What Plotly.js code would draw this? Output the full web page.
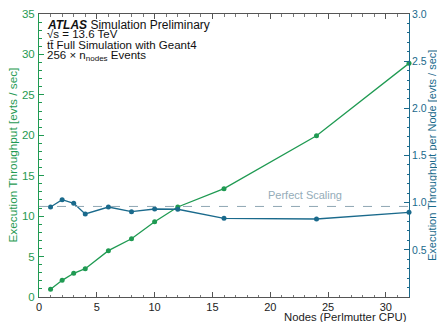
<!DOCTYPE html>
<html>
<head>
<meta charset="utf-8">
<script src="https://cdn.plot.ly/plotly-3.0.1.min.js"></script>
<style>html,body{margin:0;padding:0;background:#fff;}#chart{width:437px;height:322px;}</style>
</head>
<body>
<div id="chart"></div>
<script>
const nodes = [1, 2, 3, 4, 6, 8, 10, 12, 16, 24, 32];
const throughput = [0.95, 2.06, 2.93, 3.5, 5.73, 7.2, 9.3, 11.13, 13.4, 19.95, 28.9];
const perNode = [0.954, 1.032, 0.993, 0.88, 0.954, 0.905, 0.933, 0.93, 0.834, 0.827, 0.898];
const perfectScaling = 0.96;
const xTicks = [0, 5, 10, 15, 20, 25, 30];
const yTicks = [0, 5, 10, 15, 20, 25, 30, 35];
const y2Ticks = [0.5, 1.0, 1.5, 2.0, 2.5, 3.0];

const green = '#1f9a52';
const blue = '#1a6a8c';
const font = 'Liberation Sans, Arial, sans-serif';

const traces = [
  {x: nodes, y: throughput, type: 'scatter', mode: 'lines+markers',
   line: {color: green, width: 1.3}, marker: {color: green, size: 5}, yaxis: 'y', cliponaxis: false},
  {x: nodes, y: perNode, type: 'scatter', mode: 'lines+markers',
   line: {color: blue, width: 1.3}, marker: {color: blue, size: 5}, yaxis: 'y2', cliponaxis: false}
];

const layout = {
  width: 437, height: 322,
  margin: {l: 39, r: 28, t: 14, b: 25},
  paper_bgcolor: '#fff', plot_bgcolor: '#fff',
  showlegend: false,
  font: {family: font, size: 12, color: '#222'},
  xaxis: {
    range: [0, 32], tickvals: xTicks, ticks: 'inside', ticklen: 5, tickcolor: '#555',
    showline: true, linecolor: '#555', linewidth: 1, mirror: 'ticks', showgrid: false, zeroline: false,
    minor: {dtick: 1, ticks: 'inside', ticklen: 2.5, tickcolor: '#777'},
    tickfont: {size: 11, color: '#222'}, ticklabelstandoff: 0
  },
  yaxis: {
    range: [0, 35], tickvals: yTicks, ticks: 'inside', ticklen: 5, tickcolor: green,
    showline: true, linecolor: green, linewidth: 1, showgrid: false, zeroline: false,
    minor: {dtick: 1, ticks: 'inside', ticklen: 2.5, tickcolor: green},
    tickfont: {size: 11.5, color: green}, ticklabelstandoff: 1
  },
  yaxis2: {
    range: [0, 3], tickvals: y2Ticks, tickformat: '.1f', overlaying: 'y', side: 'right',
    ticks: 'inside', ticklen: 5, tickcolor: blue,
    showline: true, linecolor: blue, linewidth: 1, showgrid: false, zeroline: false,
    minor: {dtick: 0.1, ticks: 'inside', ticklen: 2.5, tickcolor: blue},
    tickfont: {size: 10.5, color: blue}, ticklabelstandoff: 0
  },
  shapes: [
    {type: 'line', xref: 'paper', x0: 0, x1: 1, yref: 'y2', y0: perfectScaling, y1: perfectScaling,
     line: {color: '#8fa6b3', width: 1, dash: 'dash'}}
  ],
  annotations: [
    {xref: 'paper', yref: 'paper', x: 1, y: 0, xanchor: 'right', yanchor: 'top', yshift: -12,
     text: 'Nodes (Perlmutter CPU)', showarrow: false, font: {size: 11.3, color: '#222'}},
    {xref: 'paper', yref: 'paper', x: 0, y: 0.5, xanchor: 'center', yanchor: 'middle', xshift: -27,
     textangle: -90, text: 'Execution Throughput [evts / sec]', showarrow: false, font: {size: 11.8, color: green}},
    {xref: 'paper', yref: 'paper', x: 1, y: 0.5, xanchor: 'center', yanchor: 'middle', xshift: 22.5,
     textangle: -90, text: 'Execution Throughput per Node [evts / sec]', showarrow: false, font: {size: 11, color: blue}},
    {xref: 'x', yref: 'y2', x: 23, y: perfectScaling, xanchor: 'center', yanchor: 'bottom', yshift: 3,
     text: 'Perfect Scaling', showarrow: false, font: {size: 11, color: '#94acb9'}},
    {xref: 'paper', yref: 'paper', x: 0, y: 1, xanchor: 'left', yanchor: 'top', xshift: 6, yshift: -2,
     text: '<b><i>ATLAS</i></b> Simulation Preliminary', showarrow: false, font: {size: 12, color: '#111'}},
    {xref: 'paper', yref: 'paper', x: 0, y: 1, xanchor: 'left', yanchor: 'top', xshift: 6, yshift: -12,
     text: '\u221As = 13.6 TeV', showarrow: false, font: {size: 11.5, color: '#111'}},
    {xref: 'paper', yref: 'paper', x: 0, y: 1, xanchor: 'left', yanchor: 'top', xshift: 6, yshift: -22.5,
     text: 't\u0074\u0304 Full Simulation with Geant4', showarrow: false, font: {size: 11.5, color: '#111'}},
    {xref: 'paper', yref: 'paper', x: 0, y: 1, xanchor: 'left', yanchor: 'top', xshift: 6, yshift: -33,
     text: '256 \u00D7 n<sub>nodes</sub> Events', showarrow: false, font: {size: 11.5, color: '#111'}}
  ]
};

Plotly.newPlot('chart', traces, layout, {staticPlot: true, displayModeBar: false});
</script>
</body>
</html>
